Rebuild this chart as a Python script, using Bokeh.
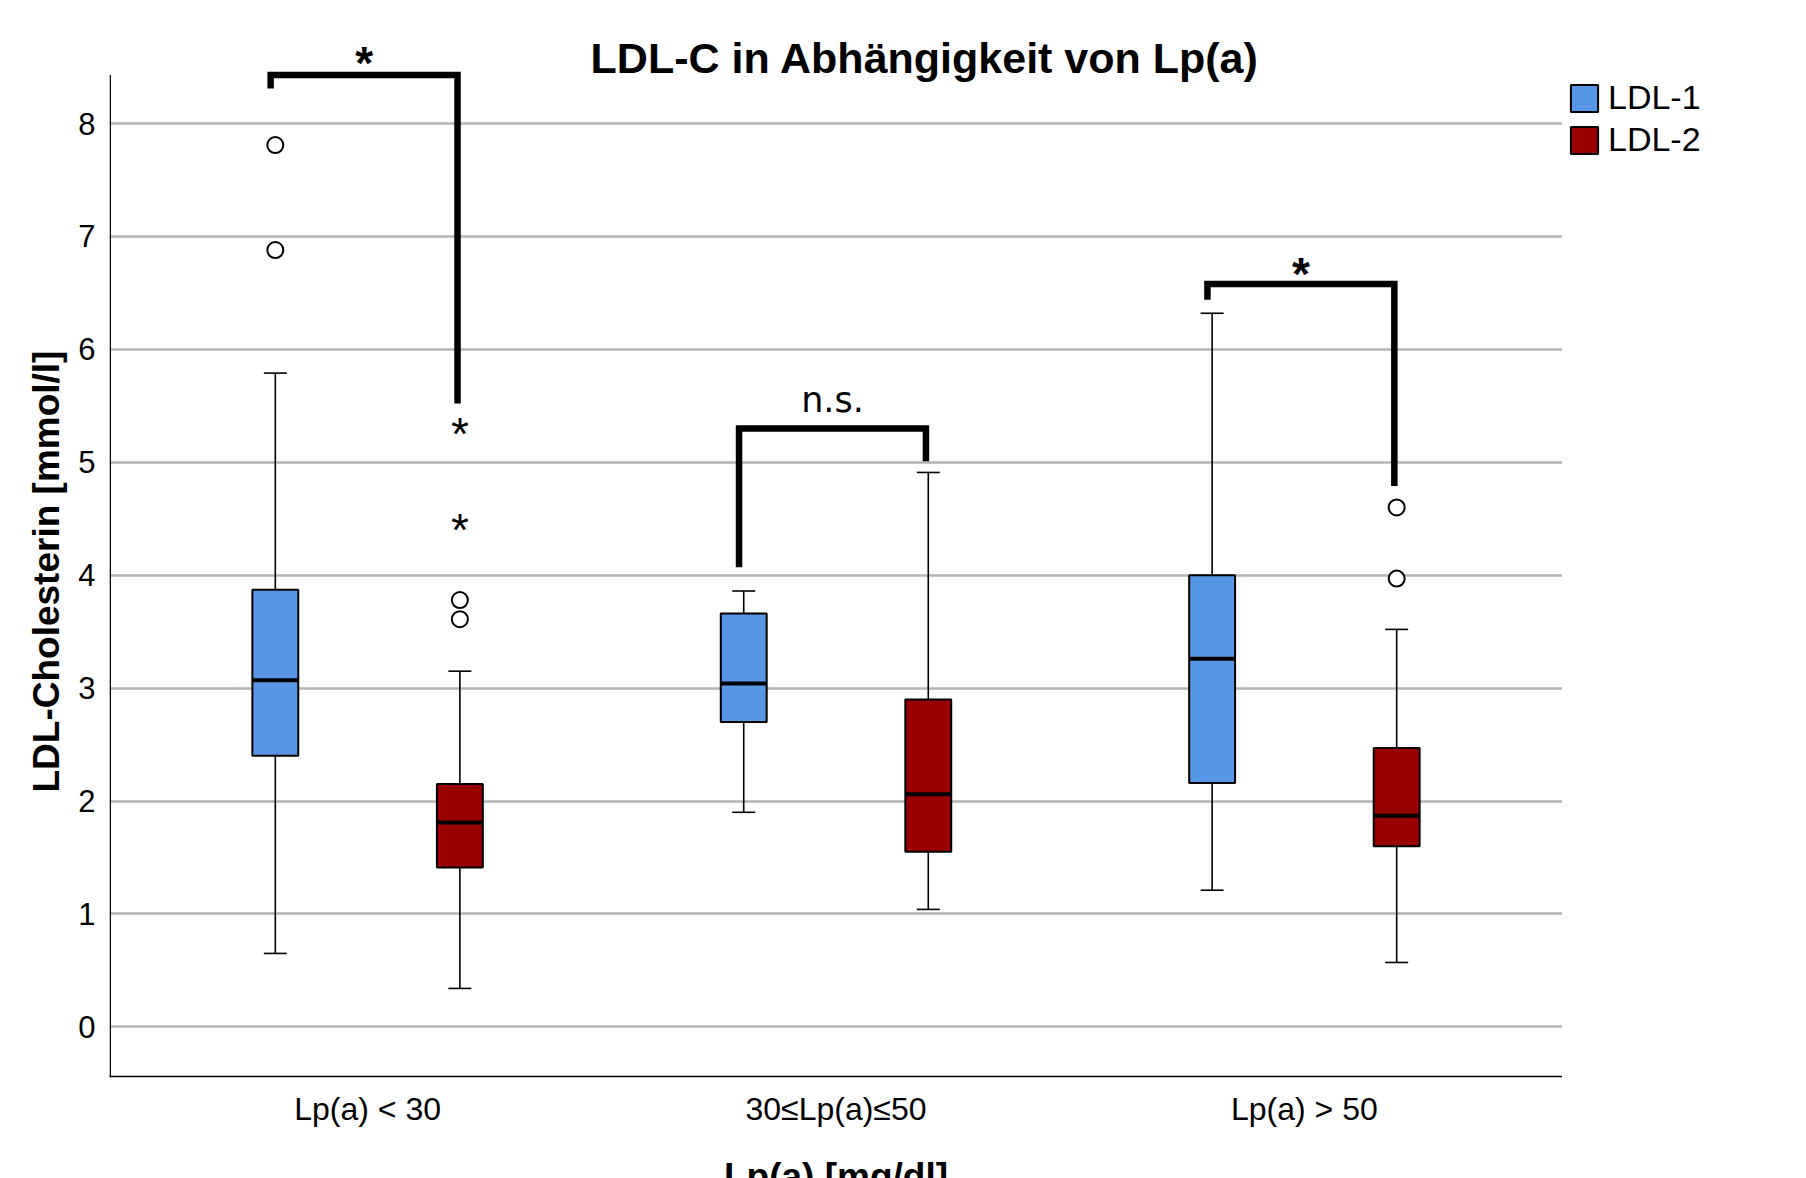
import math
import numpy as np
from bokeh.plotting import figure
from bokeh.layouts import row, column
from bokeh.models import Range1d, FixedTicker, Label, Legend, LegendItem
from bokeh.core.properties import value
from bokeh.embed import file_html
from bokeh.resources import INLINE

# ---------------- data ----------------
groups = ["Lp(a) < 30", "30\u2264Lp(a)\u226450", "Lp(a) > 50"]
series = ["LDL-1", "LDL-2"]
colors = ["#5796E4", "#990000"]

ldl1_low = [0.65, 1.90, 1.21]
ldl1_q1 = [2.40, 2.70, 2.16]
ldl1_med = [3.07, 3.04, 3.26]
ldl1_q3 = [3.87, 3.66, 4.00]
ldl1_high = [5.79, 3.86, 6.32]

ldl2_low = [0.34, 1.04, 0.57]
ldl2_q1 = [1.41, 1.55, 1.60]
ldl2_med = [1.81, 2.06, 1.87]
ldl2_q3 = [2.15, 2.90, 2.47]
ldl2_high = [3.15, 4.91, 3.52]

# outliers: group index, series index, value
circle_group = [0, 0, 0, 0, 2, 2]
circle_series = [0, 0, 1, 1, 1, 1]
circle_value = [7.81, 6.88, 3.78, 3.61, 4.60, 3.97]

star_group = [0, 0]
star_series = [1, 1]
star_value = [5.28, 4.43]

# significance brackets
br_group = [0, 1, 2]
br_left_bottom = [8.31, 4.07, 6.44]
br_top = [8.43, 5.30, 6.58]
br_right_bottom = [5.52, 5.01, 4.79]
br_text = ["*", "n.s.", "*"]
br_text_y = [8.56, 5.55, 6.69]

y_ticks = [0, 1, 2, 3, 4, 5, 6, 7, 8]

title_text = "LDL-C in Abh\u00e4ngigkeit von Lp(a)"
y_title = "LDL-Cholesterin [mmol/l]"
x_title = "Lp(a) [mg/dl]"

# ---------------- geometry ----------------
centers = np.array([1.0, 2.0, 3.0])
offset = 0.197
box_w = 0.098
cap_w = 0.049
x_lo, x_hi = 0.449, 3.551
y_lo, y_hi = -0.44, 9.09

FONT = "Liberation Sans"
W, H = 1806, 1178
YLAB_W = 70
LEG_W = 244
MAIN_W = W - YLAB_W - LEG_W
MAIN_H = 1140
FRAME_BOTTOM = 1076
MAIN_LEFT = 39

p = figure(width=MAIN_W, height=MAIN_H, output_backend="svg", toolbar_location=None,
           x_range=Range1d(x_lo, x_hi), y_range=Range1d(y_lo, y_hi),
           min_border_left=MAIN_LEFT, min_border_right=0, min_border_top=0,
           min_border_bottom=MAIN_H - FRAME_BOTTOM)
p.outline_line_color = None
p.background_fill_color = "white"
p.border_fill_color = "white"

p.xgrid.grid_line_color = None
p.ygrid.grid_line_color = "#b4b4b4"
p.ygrid.grid_line_width = 2.5

p.yaxis.ticker = FixedTicker(ticks=y_ticks)
p.yaxis.axis_line_color = None
p.yaxis.major_tick_line_color = None
p.yaxis.minor_tick_line_color = None
p.yaxis.major_label_text_font = FONT
p.yaxis.major_label_text_font_size = "31px"
p.yaxis.major_label_text_color = "black"
p.yaxis.major_label_standoff = 8

p.xaxis.ticker = FixedTicker(ticks=list(centers))
overrides = {}
for c, g in zip(centers, groups):
    overrides[float(c)] = g
    overrides[int(c)] = g
p.xaxis.major_label_overrides = overrides
p.xaxis.axis_line_color = "black"
p.xaxis.axis_line_width = 1.5
p.xaxis.major_tick_line_color = None
p.xaxis.minor_tick_line_color = None
p.xaxis.major_label_text_font = FONT
p.xaxis.major_label_text_font_size = "32px"
p.xaxis.major_label_text_color = "black"
p.xaxis.major_label_standoff = 8

# own y-axis line, ending at the top bracket level
p.segment(x0=[x_lo + 0.0016], y0=[y_lo], x1=[x_lo + 0.0016], y1=[max(br_top)],
          line_color="black", line_width=1.5)

stats = [
    (ldl1_low, ldl1_q1, ldl1_med, ldl1_q3, ldl1_high),
    (ldl2_low, ldl2_q1, ldl2_med, ldl2_q3, ldl2_high),
]
for si, (low, q1, med, q3, high) in enumerate(stats):
    xs = centers + (-offset if si == 0 else offset)
    p.segment(x0=xs, y0=low, x1=xs, y1=q1, line_color="black", line_width=1.6)
    p.segment(x0=xs, y0=q3, x1=xs, y1=high, line_color="black", line_width=1.6)
    p.segment(x0=xs - cap_w / 2, y0=low, x1=xs + cap_w / 2, y1=low, line_color="black", line_width=1.6)
    p.segment(x0=xs - cap_w / 2, y0=high, x1=xs + cap_w / 2, y1=high, line_color="black", line_width=1.6)
    p.vbar(x=xs, width=box_w, bottom=q1, top=q3, fill_color=colors[si],
           line_color="black", line_width=2)
    p.segment(x0=xs - box_w / 2, y0=med, x1=xs + box_w / 2, y1=med,
              line_color="black", line_width=4)

# outliers
cx = [centers[g] + (-offset if s == 0 else offset) for g, s in zip(circle_group, circle_series)]
p.scatter(x=cx, y=circle_value, marker="circle", size=16, fill_color="white",
          line_color="black", line_width=2)
sx = [centers[g] + (-offset if s == 0 else offset) for g, s in zip(star_group, star_series)]
p.text(x=sx, y=star_value, text=["*"] * len(sx), text_font=value(FONT),
       text_font_size="46px", text_align="center", text_baseline="alphabetic",
       y_offset=3, text_color="black")

# brackets
for g, lb, top, rb, t, ty in zip(br_group, br_left_bottom, br_top, br_right_bottom, br_text, br_text_y):
    xl = centers[g] - offset - 0.01
    xr = centers[g] + offset - 0.005
    p.line(x=[xl, xl, xr, xr], y=[lb, top, top, rb], line_color="black",
           line_width=6.5, line_join="miter")
    if t == "*":
        p.text(x=[(xl + xr) / 2], y=[ty], text=[t], text_font=value(FONT),
               text_font_size="46px", text_font_style="bold", text_align="center",
               text_baseline="alphabetic", y_offset=3, text_color="black")
    else:
        p.text(x=[(xl + xr) / 2], y=[ty], text=[t], text_font=value("DejaVu Sans"),
               text_font_size="35px", text_align="center", text_baseline="middle",
               text_color="black")

# title inside the (full height) frame
p.add_layout(Label(x=2.19, y=8.58, text=title_text,
                   text_font=FONT, text_font_size="43px", text_font_style="bold",
                   text_align="center", text_baseline="middle", text_color="black"))

# legend panel (separate canvas to the right of the plot frame; its frame is
# aligned with the main frame, 0..FRAME_BOTTOM)
leg = figure(width=LEG_W, height=MAIN_H, output_backend="svg", toolbar_location=None,
             x_axis_type=None, y_axis_type=None, x_range=Range1d(0, 1),
             y_range=Range1d(0, 1), min_border=0)
leg.outline_line_color = None
leg.grid.visible = False
leg_renderers = [leg.vbar(x=[float("nan")], width=1, top=[float("nan")], bottom=[float("nan")],
                          fill_color=colors[i], line_color="black", line_width=2)
                 for i in range(2)]
legend = Legend(items=[LegendItem(label=series[i], renderers=[leg_renderers[i]]) for i in range(2)],
                location=(5, 917), orientation="vertical")
legend.margin = 0
legend.padding = 0
legend.spacing = 3
legend.glyph_width = 34
legend.glyph_height = 34
legend.label_height = 34
legend.label_standoff = 7
legend.label_text_font = FONT
legend.label_text_font_size = "34px"
legend.label_text_color = "black"
legend.label_text_baseline = "middle"
legend.border_line_color = None
legend.background_fill_alpha = 0
leg.add_layout(legend, "center")

# y-axis title panel
ylab = figure(width=YLAB_W, height=MAIN_H, output_backend="svg", toolbar_location=None,
              x_axis_type=None, y_axis_type=None, x_range=Range1d(0, YLAB_W),
              y_range=Range1d(0, MAIN_H), min_border=0)
ylab.outline_line_color = None
ylab.grid.visible = False
ylab.text(x=[46], y=[MAIN_H - 605], text=[y_title], angle=math.pi / 2,
          text_font=value(FONT), text_font_size="37px", text_font_style="bold",
          text_align="center", text_baseline="middle", text_color="black")

# x-axis title panel (cut off by the window bottom as in the original)
xlab_h = H - MAIN_H
frame_center = YLAB_W + MAIN_LEFT + (MAIN_W - MAIN_LEFT) / 2
xlab = figure(width=W, height=xlab_h, output_backend="svg", toolbar_location=None,
              x_axis_type=None, y_axis_type=None, x_range=Range1d(0, W),
              y_range=Range1d(0, xlab_h), min_border=0)
xlab.outline_line_color = None
xlab.grid.visible = False
xlab.text(x=[frame_center], y=[xlab_h - 15], text=[x_title],
          text_font=value(FONT), text_font_size="37px", text_font_style="bold",
          text_align="center", text_baseline="top", text_color="black")

layout = column(row(ylab, p, leg, spacing=0), xlab, spacing=0)
open("out.html", "w").write(file_html(layout, INLINE))
